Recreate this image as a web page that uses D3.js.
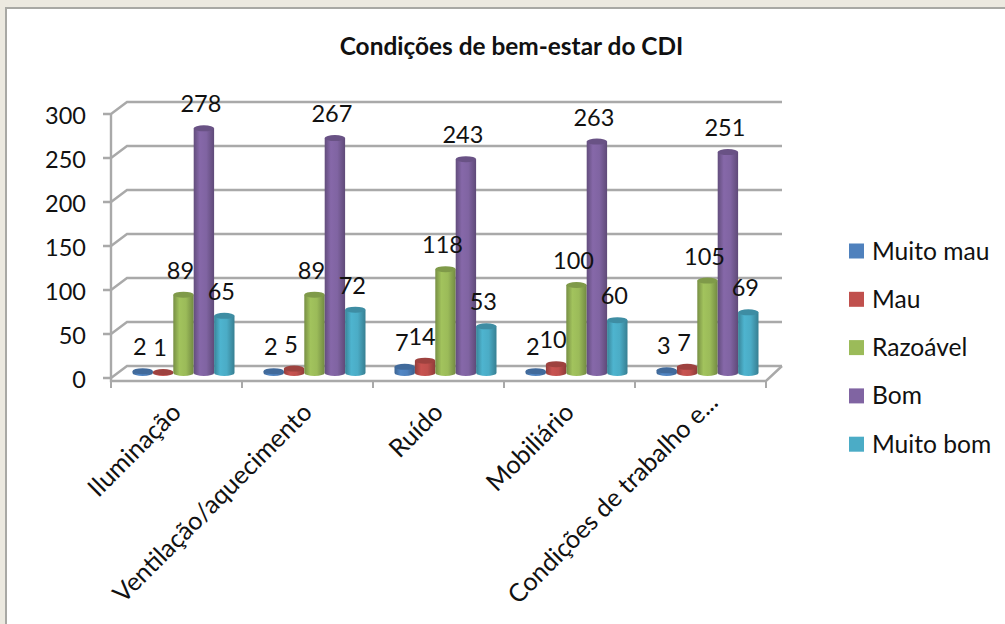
<!DOCTYPE html>
<html><head><meta charset="utf-8">
<script src="https://cdn.jsdelivr.net/npm/d3@7/dist/d3.min.js"></script>
<style>html,body{margin:0;padding:0;background:#ece9e0}svg{display:block}text{font-family:Lato,"Open Sans",sans-serif;fill:#111}</style>
</head><body><div id="c"></div>
<script>
const categories=["Iluminação","Ventilação/aquecimento","Ruído","Mobiliário","Condições de trabalho e..."];
const seriesNames=["Muito mau","Mau","Razoável","Bom","Muito bom"];
const muitoMau=[2,2,7,2,3];
const mau=[1,5,14,10,7];
const razoavel=[89,89,118,100,105];
const bom=[278,267,243,263,251];
const muitoBom=[65,72,53,60,69];
const yTicks=[0,50,100,150,200,250,300];
const colors=["#4f81bd","#c0504d","#9bbb59","#8064a2","#4bacc6"];
const seriesValues=[muitoMau,mau,razoavel,bom,muitoBom];
const W=1005,H=624;
const svg=d3.select("#c").append("svg").attr("width",W).attr("height",H);
svg.append("rect").attr("x",6).attr("y",8).attr("width",W+20).attr("height",H+20)
  .attr("fill","#fff").attr("stroke","#a8a8a4").attr("stroke-width",2);
svg.append("text").attr("x",511.5).attr("y",55).attr("text-anchor","middle")
  .style("font-size","24.4px").style("font-weight","700").text("Condições de bem-estar do CDI");
const dx=16,dy=-12;
const x=d3.scaleBand().domain(categories).range([111,766]);
const y=d3.scaleLinear().domain([0,300]).range([378,114]);
const s=d3.scaleBand().domain(seriesNames).range([-51,51]);
const g=svg.append("g");
const grid="#a9a9a9";
yTicks.forEach(t=>{
  g.append("path").attr("fill","none").attr("stroke",grid).attr("stroke-width",2.4)
   .attr("d",d3.line()([[103,y(t)],[111,y(t)],[111+dx,y(t)+dy],[766+dx,y(t)+dy]]));
});
g.append("path").attr("fill","none").attr("stroke",grid).attr("stroke-width",2.4)
 .attr("d",d3.line()([[111,y(300)],[111,y(0)+3],[766,y(0)+3],[766+dx,y(0)+dy]]));
[...categories.map(c=>x(c)),766].forEach(px=>{
  g.append("line").attr("x1",px).attr("x2",px).attr("y1",y(0)+3).attr("y2",y(0)+10)
   .attr("stroke",grid).attr("stroke-width",2);
});
const ya=svg.append("g").attr("transform","translate(94,1.5)").call(d3.axisLeft(y).tickValues(yTicks).tickSize(0).tickPadding(8));
ya.select(".domain").remove();
ya.selectAll("text").style("font-size","23.5px").style("font-family","Lato").attr("dy","0.35em");
const defs=svg.append("defs");
colors.forEach((c,i)=>{
  const gr=defs.append("linearGradient").attr("id","g"+i);
  const col=d3.color(c);
  [[0,col.darker(0.75)],[0.3,col.brighter(0.12)],[0.62,col],[1,col.darker(0.85)]].forEach(([o,k])=>
    gr.append("stop").attr("offset",o).attr("stop-color",k));
});
const rx=10.2,ry=3;
const baseY=y(0)-5;
const bars=svg.append("g");
const labels=svg.append("g");
categories.forEach((cat,ci)=>{
  seriesNames.forEach((ser,si)=>{
    const v=seriesValues[si][ci];
    const cx=x(cat)+x.bandwidth()/2+7+s(ser)+s.bandwidth()/2;
    const top=baseY-(y(0)-y(v));
    const b=bars.append("g");
    b.append("path").attr("fill",`url(#g${si})`)
     .attr("d",`M${cx-rx},${top}L${cx-rx},${baseY}A${rx},${ry} 0 0 0 ${cx+rx},${baseY}L${cx+rx},${top}Z`);
    b.append("ellipse").attr("cx",cx).attr("cy",top).attr("rx",rx).attr("ry",ry)
     .attr("fill",d3.color(colors[si]).darker(0.55));
    labels.append("text").attr("x",cx-3).attr("y",top-16).attr("text-anchor","middle")
     .style("font-size","23.5px").text(v);
  });
  const truncated=cat.endsWith("...");
  svg.append("text").attr("text-anchor","end")
    .attr("transform",`translate(${x(cat)+x.bandwidth()/2+6+(truncated?13:0)},${414-(truncated?10:0)}) rotate(-45)`)
    .style("font-size","25.2px").text(cat);
});
const leg=svg.append("g");
seriesNames.forEach((n,i)=>{
  const ly=251+i*48.3;
  leg.append("rect").attr("x",849).attr("y",ly-7.5).attr("width",15).attr("height",15).attr("fill",colors[i]);
  leg.append("text").attr("x",872).attr("y",ly+8.5).style("font-size","24.6px").text(n);
});
</script></body></html>
